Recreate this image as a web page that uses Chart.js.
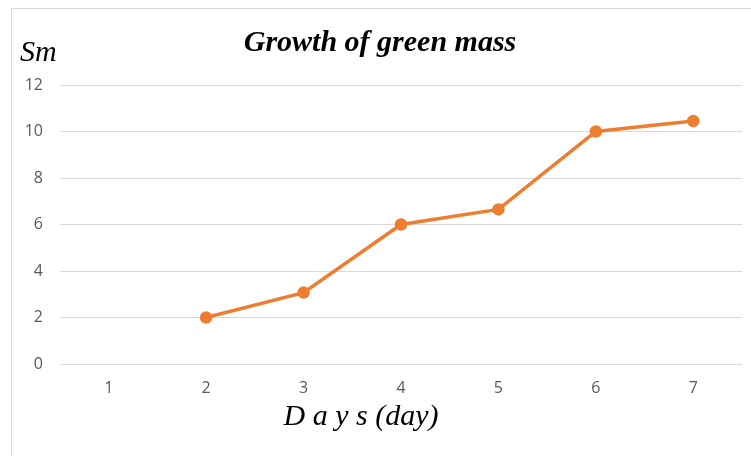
<!DOCTYPE html>
<html lang="en">
<head>
    <meta charset="UTF-8">
    <title>Growth of green mass</title>
    <style>
        body { margin: 0; background: #ffffff; }
        .frame {
            position: absolute;
            left: 11px;
            top: 8px;
            width: 800px;
            height: 500px;
            border: 1px solid #d9d9d9;
        }
        .chart-box {
            position: absolute;
            left: 0;
            top: 0;
            width: 751px;
            height: 456px;
        }
    </style>
</head>
<body>

<div class="frame"></div>
<div class="chart-box">
    <canvas id="growthChart" width="751" height="456"></canvas>
</div>

<script src="https://cdn.jsdelivr.net/npm/chart.js"></script>
<script>
    // Datos
    const days = ['1', '2', '3', '4', '5', '6', '7'];
    const greenMass = [null, 2, 3.07, 6, 6.65, 10, 10.45];
    const yTicks = [0, 2, 4, 6, 8, 10, 12];

    const orange = '#ED7D31';

    // Textos sueltos: "Sm" arriba del eje Y y el título del eje X
    const axisTexts = {
        id: 'axisTexts',
        afterDraw(chart) {
            const c = chart.ctx;
            c.save();
            c.fillStyle = '#000000';
            c.textBaseline = 'alphabetic';
            c.font = 'italic 30px "Liberation Serif"';
            c.textAlign = 'left';
            c.fillText('Sm', 20, 61);
            c.textAlign = 'center';
            c.fillText('D a y s (day)', 361, 425);
            c.restore();
        }
    };

    const ctx = document.getElementById('growthChart').getContext('2d');
    const growthChart = new Chart(ctx, {
        type: 'line',
        data: {
            labels: days,
            datasets: [{
                label: 'Green mass',
                data: greenMass,
                borderColor: orange,
                backgroundColor: orange,
                borderWidth: 3.5,
                pointRadius: 4.5,
                pointBackgroundColor: orange,
                pointBorderColor: orange,
                tension: 0
            }]
        },
        options: {
            responsive: false,
            animation: false,
            layout: {
                padding: { left: 18, top: 0, right: 9, bottom: 0 }
            },
            plugins: {
                legend: { display: false },
                tooltip: { enabled: false },
                title: {
                    display: true,
                    text: 'Growth of green mass',
                    color: '#000000',
                    font: { family: '"Liberation Serif"', size: 30, style: 'italic', weight: 'bold' },
                    padding: { top: 25, bottom: 24 }
                }
            },
            scales: {
                x: {
                    offset: true,
                    afterFit(scale) {
                        scale.height = 92;
                    },
                    grid: { display: false, drawTicks: false },
                    border: { display: false },
                    ticks: {
                        color: '#595959',
                        padding: 15,
                        font: { family: '"Open Sans"', size: 16 }
                    }
                },
                y: {
                    min: 0,
                    max: 12,
                    afterBuildTicks(scale) {
                        scale.ticks = yTicks.map(v => ({ value: v }));
                    },
                    afterFit(scale) {
                        scale.width = 42;
                    },
                    grid: { color: '#d9d9d9', lineWidth: 1, drawTicks: false },
                    border: { display: false },
                    ticks: {
                        color: '#595959',
                        padding: 17,
                        font: { family: '"Open Sans"', size: 16 }
                    }
                }
            }
        },
        plugins: [axisTexts]
    });
</script>

</body>
</html>
